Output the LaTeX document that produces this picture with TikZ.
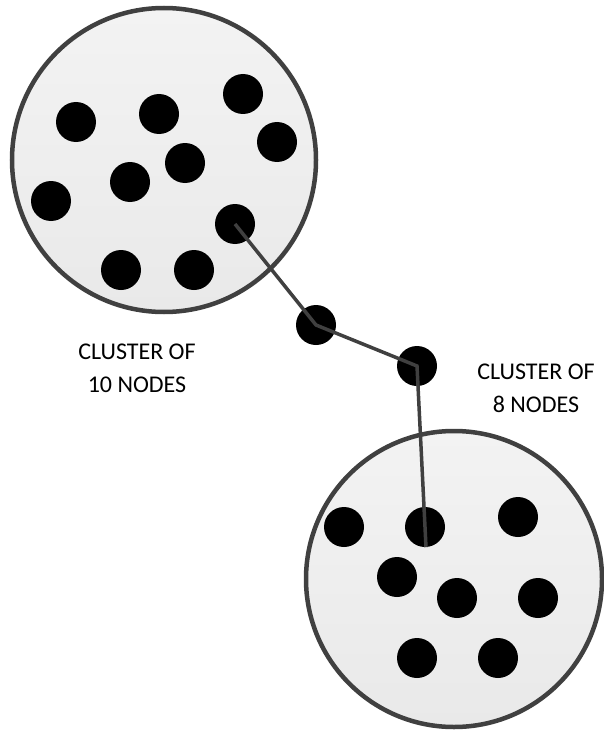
\documentclass[tikz,border=0pt]{standalone}
\usepackage{fontspec}
\setmainfont{Carlito}
\definecolor{rim}{HTML}{404040}
\definecolor{filltop}{HTML}{F3F3F3}
\definecolor{fillbot}{HTML}{E9E9E9}
\begin{document}
\begin{tikzpicture}[x=1pt,y=-1pt,
  cluster/.style={draw=rim,line width=4.5pt,top color=filltop,bottom color=fillbot},
  dot/.style={circle,fill=black,inner sep=0pt,minimum size=40pt},
  link/.style={draw=rim,line width=3.5pt,line join=miter},
  lbl/.style={align=center,inner sep=0pt,text=black,font=\fontsize{24}{33}\selectfont}]
\useasboundingbox (0,0) rectangle (604,733);
% clusters
\path[cluster] (164,160) circle[radius=152];
\path[cluster] (454,579) circle[radius=148];
% cluster 1 nodes
\node[dot] (a1) at (76,122) {};
\node[dot] (a2) at (159,114) {};
\node[dot] (a3) at (243,94) {};
\node[dot] (a4) at (277,142) {};
\node[dot] (a5) at (185,163) {};
\node[dot] (a6) at (130,182) {};
\node[dot] (a7) at (51,201) {};
\node[dot] (a8) at (235,224) {};
\node[dot] (a9) at (121,270) {};
\node[dot] (a10) at (194,270) {};
% bridge nodes
\node[dot] (l1) at (316,325) {};
\node[dot] (l2) at (417,366) {};
% cluster 2 nodes
\node[dot] (b1) at (344,527) {};
\node[dot] (b2) at (425,527) {};
\node[dot] (b3) at (518,517) {};
\node[dot] (b4) at (397,577) {};
\node[dot] (b5) at (457,598) {};
\node[dot] (b6) at (538,598) {};
\node[dot] (b7) at (417,658) {};
\node[dot] (b8) at (498,658) {};
% connector
\draw[link] (a8.center) -- (l1.center) -- (l2.center) -- ([xshift=1pt]b2.south);
% labels
\node[lbl] (t1) at (137,368) {CLUSTER OF\\10 NODES};
\node[lbl] (t2) at (536,388) {CLUSTER OF\\8 NODES};
\end{tikzpicture}
\end{document}
